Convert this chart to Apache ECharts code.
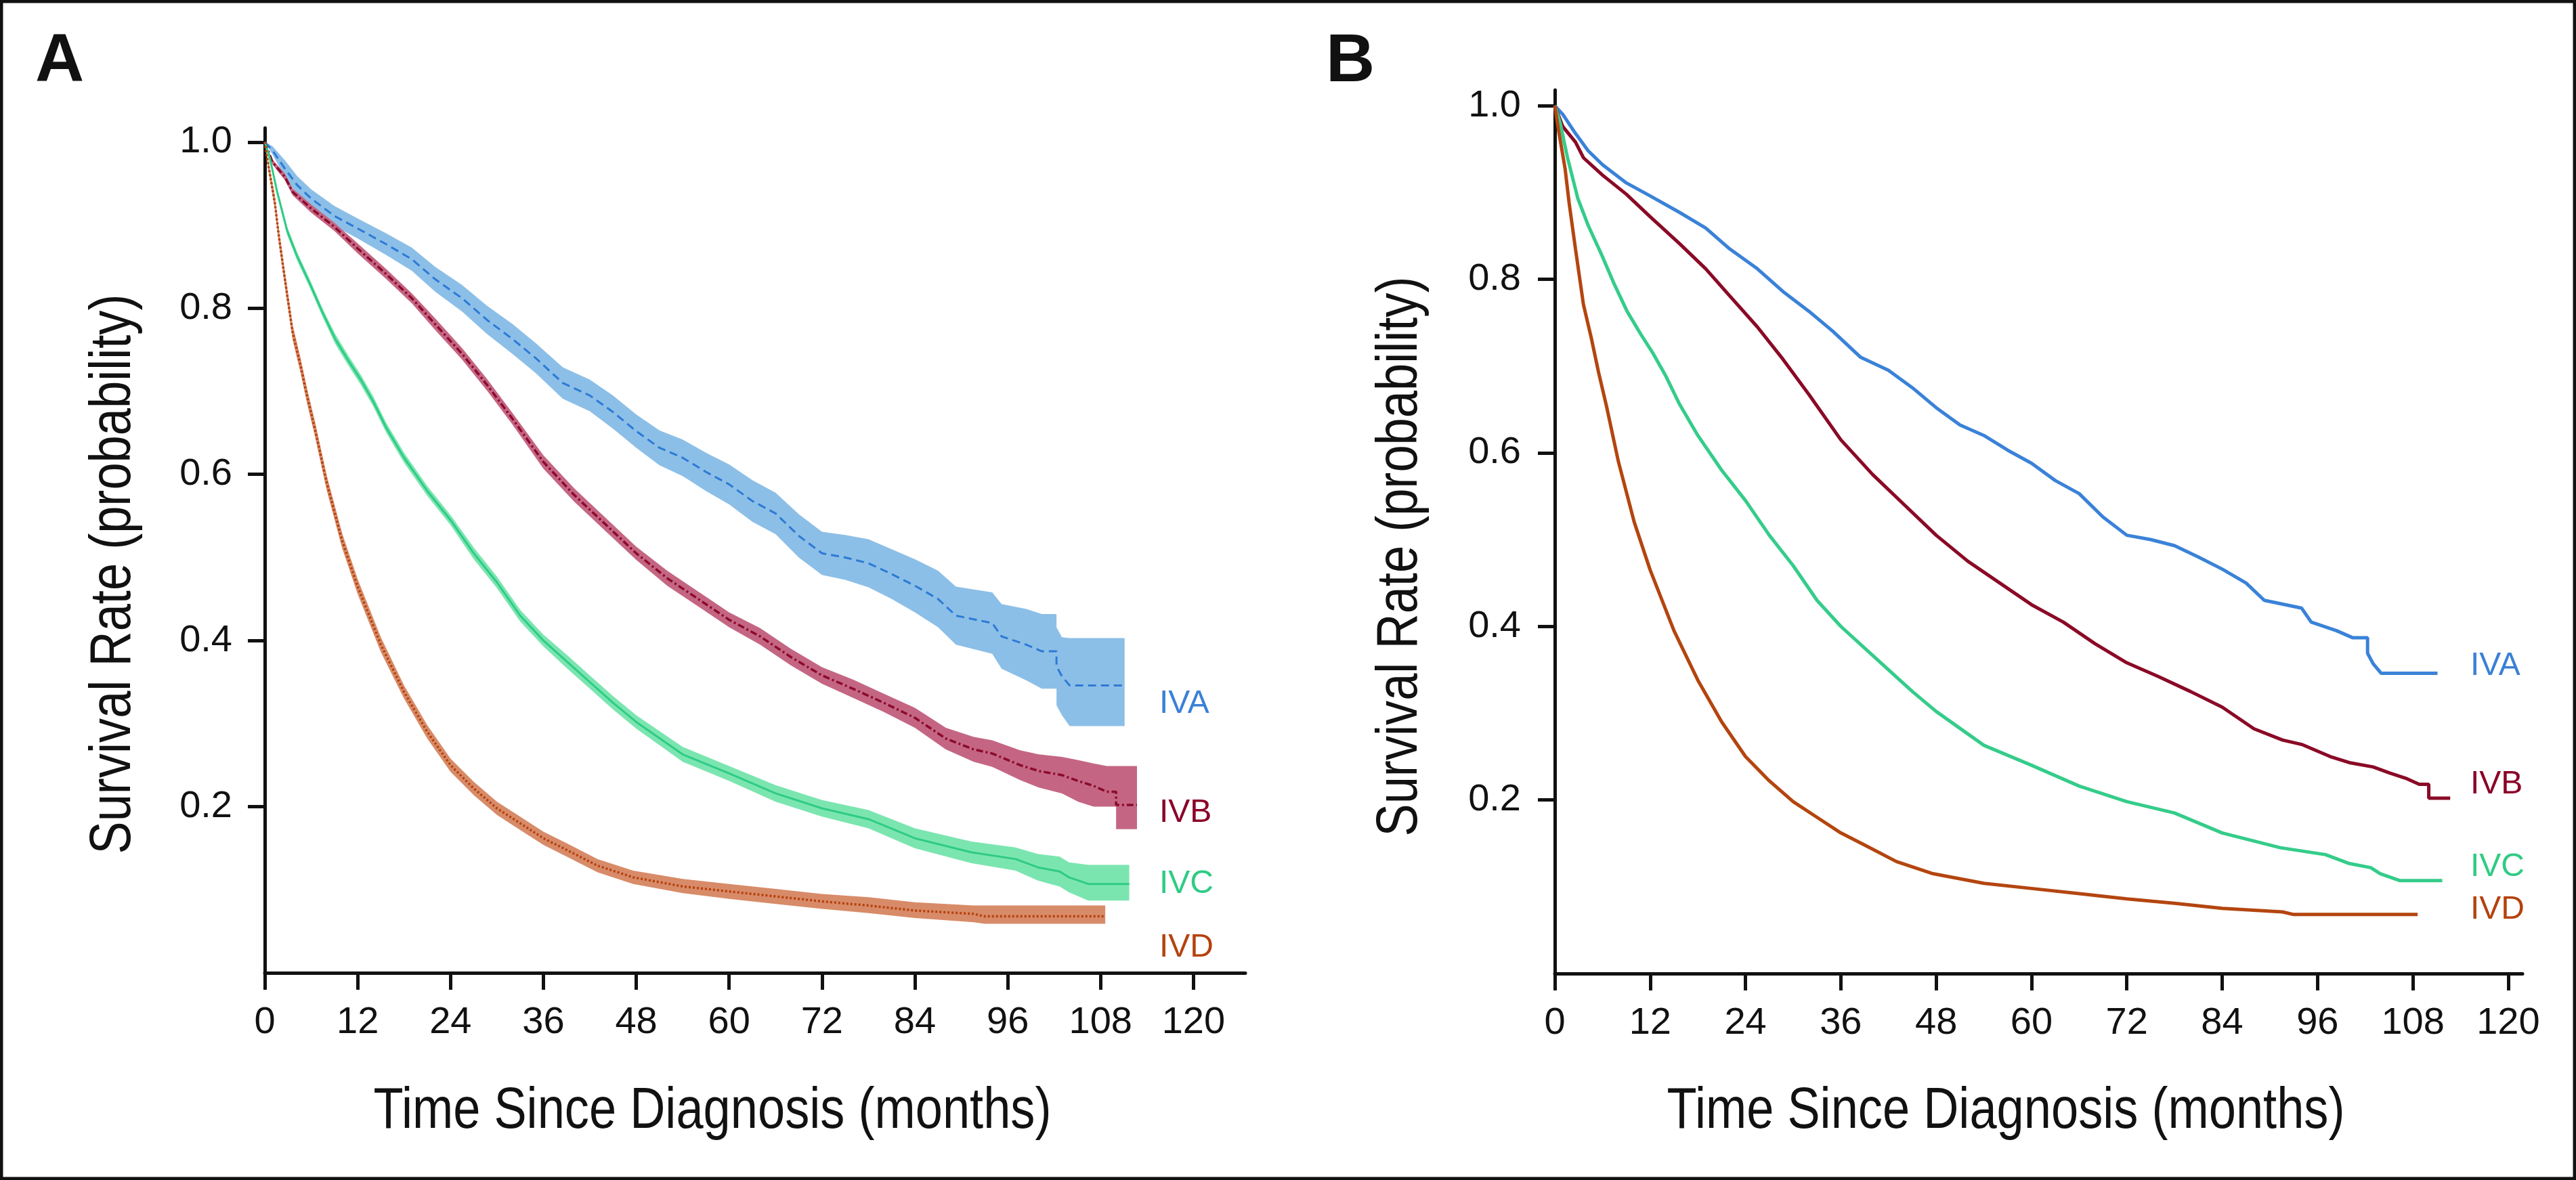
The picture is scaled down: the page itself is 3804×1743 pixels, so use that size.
<!DOCTYPE html>
<html>
<head>
    <meta charset="utf-8"/>
    <title>Survival by stage IV subgroup</title>
    <script src="https://cdn.jsdelivr.net/npm/echarts@6/dist/echarts.min.js"></script>
    <style>
        html, body { margin: 0; padding: 0; background: #fff; }
        #main { width: 3804px; height: 1743px; }
    </style>
</head>
<body>
<div id="main"></div>
<script type="text/javascript">
    // axis ticks
    var monthTicks = [0, 12, 24, 36, 48, 60, 72, 84, 96, 108, 120];
    var rateTicks = [0.2, 0.4, 0.6, 0.8, 1.0];
    var stageNames = ['IVA', 'IVB', 'IVC', 'IVD'];

    // IVA: months, survival, 95% CI
    var ivaTime = [0, 1, 2.6, 4.2, 6, 9, 12, 15.7, 19, 22, 25.5, 28.7, 32, 35, 38.5, 42, 45, 48, 51, 54, 57, 60, 63, 66, 69, 72, 75, 78, 81, 84, 87, 89.3, 94, 95.2, 98.4, 100.4, 102.3, 102.3, 103, 104, 111.1];
    var ivaSurv = [1, 0.99, 0.968, 0.948, 0.932, 0.911, 0.896, 0.877, 0.859, 0.835, 0.812, 0.786, 0.763, 0.74, 0.71, 0.695, 0.675, 0.652, 0.632, 0.62, 0.603, 0.588, 0.568, 0.553, 0.526, 0.505, 0.5, 0.493, 0.48, 0.466, 0.45, 0.43, 0.421, 0.405, 0.395, 0.387, 0.387, 0.369, 0.357, 0.346, 0.346];
    var ivaLow = [1, 0.985, 0.958, 0.937, 0.921, 0.899, 0.884, 0.864, 0.845, 0.82, 0.796, 0.769, 0.745, 0.722, 0.691, 0.676, 0.655, 0.632, 0.611, 0.598, 0.58, 0.564, 0.543, 0.528, 0.5, 0.479, 0.473, 0.464, 0.45, 0.434, 0.416, 0.395, 0.384, 0.366, 0.352, 0.342, 0.342, 0.322, 0.31, 0.297, 0.297];
    var ivaHigh = [1, 0.995, 0.978, 0.959, 0.943, 0.923, 0.908, 0.89, 0.873, 0.85, 0.828, 0.803, 0.781, 0.758, 0.729, 0.714, 0.695, 0.672, 0.653, 0.642, 0.626, 0.612, 0.593, 0.578, 0.552, 0.531, 0.527, 0.522, 0.51, 0.498, 0.484, 0.465, 0.458, 0.444, 0.438, 0.432, 0.432, 0.416, 0.404, 0.403, 0.403];

    // IVB
    var ivbTime = [0, 1, 2.6, 3.6, 6, 9, 12, 15.7, 19, 22, 25.5, 28.7, 32, 36, 40, 44, 48, 52, 56, 60, 64, 68, 72, 76, 80, 84, 88, 91.6, 94, 97.6, 100, 103, 105.1, 107.1, 108.8, 110, 110, 112.7];
    var ivbSurv = [1, 0.976, 0.958, 0.94, 0.92, 0.898, 0.872, 0.841, 0.812, 0.781, 0.745, 0.708, 0.667, 0.615, 0.575, 0.54, 0.505, 0.475, 0.45, 0.425, 0.405, 0.38, 0.358, 0.342, 0.325, 0.307, 0.282, 0.269, 0.264, 0.25, 0.243, 0.238, 0.231, 0.225, 0.218, 0.218, 0.202, 0.202];
    var ivbLow = [1, 0.973, 0.954, 0.936, 0.915, 0.893, 0.866, 0.835, 0.806, 0.774, 0.738, 0.701, 0.66, 0.607, 0.567, 0.532, 0.497, 0.466, 0.441, 0.416, 0.395, 0.37, 0.348, 0.331, 0.314, 0.295, 0.269, 0.254, 0.248, 0.232, 0.223, 0.216, 0.206, 0.2, 0.2, 0.2, 0.173, 0.173];
    var ivbHigh = [1, 0.979, 0.962, 0.944, 0.925, 0.903, 0.878, 0.847, 0.818, 0.788, 0.752, 0.715, 0.674, 0.623, 0.583, 0.548, 0.513, 0.484, 0.459, 0.434, 0.415, 0.39, 0.368, 0.353, 0.336, 0.319, 0.295, 0.284, 0.28, 0.268, 0.263, 0.26, 0.256, 0.252, 0.249, 0.249, 0.249, 0.249];

    // IVC
    var ivcTime = [0, 0.65, 1.6, 2.9, 4.2, 5.9, 7.5, 9.1, 10.8, 12.4, 14, 15.7, 18, 21, 24, 27, 30, 33, 36, 39, 42, 45, 48, 54, 60, 66, 72, 78, 84, 91.3, 97, 99.9, 102.7, 103.9, 106.4, 111.7];
    var ivcSurv = [1, 0.981, 0.94, 0.893, 0.862, 0.828, 0.794, 0.763, 0.737, 0.714, 0.688, 0.656, 0.62, 0.58, 0.545, 0.505, 0.47, 0.43, 0.4, 0.375, 0.35, 0.325, 0.302, 0.263, 0.24, 0.216, 0.198, 0.185, 0.162, 0.145, 0.137, 0.127, 0.122, 0.115, 0.107, 0.107];
    var ivcLow = [1, 0.978, 0.936, 0.888, 0.857, 0.823, 0.789, 0.757, 0.731, 0.708, 0.682, 0.65, 0.614, 0.574, 0.539, 0.498, 0.463, 0.423, 0.393, 0.367, 0.342, 0.317, 0.294, 0.254, 0.231, 0.206, 0.188, 0.174, 0.15, 0.132, 0.123, 0.111, 0.104, 0.097, 0.087, 0.087];
    var ivcHigh = [1, 0.984, 0.944, 0.898, 0.867, 0.833, 0.799, 0.769, 0.743, 0.72, 0.694, 0.662, 0.626, 0.586, 0.551, 0.512, 0.477, 0.437, 0.407, 0.383, 0.358, 0.333, 0.31, 0.272, 0.249, 0.226, 0.208, 0.196, 0.174, 0.158, 0.151, 0.143, 0.14, 0.133, 0.13, 0.13];

    // IVD
    var ivdTime = [0, 0.5, 1.3, 1.8, 2.6, 3.6, 4.6, 5.5, 6.5, 8, 10, 12, 15, 18, 21, 24, 27, 30, 33, 36, 39, 43, 47.6, 54, 60, 66, 72, 78, 84, 91.6, 93, 108.6];
    var ivdSurv = [1, 0.97, 0.927, 0.888, 0.835, 0.771, 0.732, 0.693, 0.654, 0.59, 0.52, 0.465, 0.395, 0.338, 0.29, 0.25, 0.222, 0.198, 0.18, 0.162, 0.148, 0.129, 0.115, 0.104, 0.098, 0.092, 0.086, 0.081, 0.075, 0.071, 0.068, 0.068];
    var ivdLow = [1, 0.964, 0.919, 0.879, 0.826, 0.762, 0.723, 0.684, 0.645, 0.581, 0.511, 0.456, 0.386, 0.33, 0.282, 0.242, 0.214, 0.19, 0.172, 0.154, 0.14, 0.121, 0.107, 0.096, 0.089, 0.083, 0.077, 0.072, 0.066, 0.061, 0.059, 0.059];
    var ivdHigh = [1, 0.976, 0.935, 0.897, 0.844, 0.78, 0.741, 0.702, 0.663, 0.599, 0.529, 0.474, 0.404, 0.346, 0.298, 0.258, 0.23, 0.206, 0.188, 0.17, 0.156, 0.137, 0.123, 0.113, 0.107, 0.101, 0.095, 0.091, 0.085, 0.081, 0.081, 0.081];

    var regular = "'Liberation Sans', Arial, sans-serif";

    var stages = [
        {name: 'IVA', time: ivaTime, surv: ivaSurv, low: ivaLow, high: ivaHigh,
            line: '#2d7ad6', band: '#8cbfe7', lineB: '#3a82d8', dash: [12, 7], width: 3},
        {name: 'IVB', time: ivbTime, surv: ivbSurv, low: ivbLow, high: ivbHigh,
            line: '#8c0a2c', band: '#c46683', lineB: '#8a0a26', dash: [10, 4, 3, 4], width: 3.5},
        {name: 'IVC', time: ivcTime, surv: ivcSurv, low: ivcLow, high: ivcHigh,
            line: '#2fcb86', band: '#7be5b0', lineB: '#35cc8a', dash: 'solid', width: 3},
        {name: 'IVD', time: ivdTime, surv: ivdSurv, low: ivdLow, high: ivdHigh,
            line: '#b5410d', band: '#d88b68', lineB: '#b4450f', dash: [3, 3], width: 3.5}
    ];

    function pairs(t, v) {
        var out = [];
        for (var i = 0; i < t.length; i++) out.push([t[i], v[i]]);
        return out;
    }

    // CI band drawn as one polygon through the axis scales
    function bandRender(st) {
        return function (params, api) {
            var pts = [];
            for (var i = 0; i < st.time.length; i++) pts.push(api.coord([st.time[i], st.high[i]]));
            for (var j = st.time.length - 1; j >= 0; j--) pts.push(api.coord([st.time[j], st.low[j]]));
            return {type: 'polygon', shape: {points: pts}, style: {fill: st.band}};
        };
    }

    function xAxisFor(grid, max) {
        return {
            type: 'value', gridIndex: grid, min: 0, max: max,
            axisLine: {onZero: false, lineStyle: {color: '#111', width: 5}},
            axisTick: {customValues: monthTicks, length: 25, lineStyle: {color: '#111', width: 5}},
            axisLabel: {customValues: monthTicks, margin: 46, fontFamily: regular, fontSize: 56, color: '#111'},
            splitLine: {show: false}
        };
    }

    function yAxisFor(grid, max, margin) {
        return {
            type: 'value', gridIndex: grid, min: 0, max: max,
            axisLine: {onZero: false, lineStyle: {color: '#111', width: 5}},
            axisTick: {customValues: rateTicks, length: 25, lineStyle: {color: '#111', width: 5}},
            axisLabel: {
                customValues: rateTicks, margin: margin, fontFamily: regular, fontSize: 56, color: '#111',
                formatter: function (v) { return v.toFixed(1); }
            },
            splitLine: {show: false}
        };
    }

    var series = [];
    // panel A: bands then lines
    stages.forEach(function (st) {
        series.push({
            type: 'custom', xAxisIndex: 0, yAxisIndex: 0, silent: true,
            data: [[0, 1]], renderItem: bandRender(st)
        });
    });
    stages.forEach(function (st) {
        series.push({
            type: 'line', name: st.name, xAxisIndex: 0, yAxisIndex: 0, symbol: 'none', silent: true,
            data: pairs(st.time, st.surv),
            lineStyle: {color: st.line, width: st.width, type: st.dash, cap: 'butt'}
        });
    });
    // panel B: lines only
    stages.forEach(function (st) {
        series.push({
            type: 'line', name: st.name, xAxisIndex: 1, yAxisIndex: 1, symbol: 'none', silent: true,
            data: pairs(st.time, st.surv),
            lineStyle: {color: st.lineB, width: 5}
        });
    });

    function txt(x, y, s, font, color, extra) {
        var el = {type: 'text', x: x, y: y, silent: true,
            style: {text: s, font: font, fill: color, align: 'left', verticalAlign: 'middle'}};
        if (extra) for (var k in extra) el[k] = extra[k];
        return el;
    }

    // condensed look for the axis titles: regular face squeezed horizontally
    var titleFont = '86px ' + regular;
    function title(x, y, s, rot) {
        return {type: 'text', x: x, y: y, rotation: rot, scaleX: 0.84, silent: true,
            style: {text: s, font: titleFont, fill: '#111', align: 'center', verticalAlign: 'middle'}};
    }

    var labelFont = '48px ' + regular;
    var labelColors = ['#3a80d6', '#8a0028', '#2fcb84', '#b5420d'];
    var labelYA = [1040, 1201, 1306, 1400];
    var labelYB = [984, 1159, 1281, 1344];

    var graphics = [
        {type: 'rect', silent: true, shape: {x: 2, y: 2, width: 3800, height: 1739},
            style: {fill: 'none', stroke: '#111', lineWidth: 5}},
        txt(52, 92, 'A', 'bold 100px ' + regular, '#111'),
        txt(1958, 92, 'B', 'bold 100px ' + regular, '#111'),
        title(1052, 1642, 'Time Since Diagnosis (months)', 0),
        title(2962, 1642, 'Time Since Diagnosis (months)', 0),
        title(168, 848, 'Survival Rate (probability)', Math.PI / 2),
        title(2068, 822, 'Survival Rate (probability)', Math.PI / 2)
    ];
    stageNames.forEach(function (n, i) {
        graphics.push(txt(1712, labelYA[i], n, labelFont, labelColors[i]));
        graphics.push(txt(3648, labelYB[i], n, labelFont, labelColors[i]));
    });

    var myChart = echarts.init(document.getElementById('main'));
    myChart.setOption({
        animation: false,
        backgroundColor: '#fff',
        grid: [
            {left: 391, top: 189, width: 1448, height: 1248},
            {left: 2296, top: 133, width: 1429, height: 1305}
        ],
        xAxis: [xAxisFor(0, 126.7), xAxisFor(1, 121.8)],
        yAxis: [yAxisFor(0, 1.017, 48), yAxisFor(1, 1.018, 50)],
        series: series,
        graphic: graphics
    });
</script>
</body>
</html>
